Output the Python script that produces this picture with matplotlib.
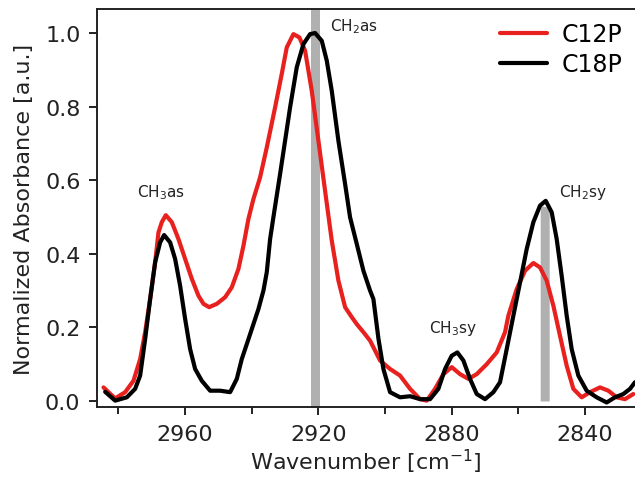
import numpy as np
import matplotlib
matplotlib.use("Agg")
import matplotlib.pyplot as plt
from matplotlib.ticker import MultipleLocator, FormatStrFormatter

# C12P spectrum (wavenumber, normalized absorbance)
wn_c12 = [2984.5, 2981.0, 2978.0, 2975.5, 2973.5, 2972.0, 2970.5, 2969.0, 2968.0, 2967.0,
          2965.8, 2964.0, 2962.0, 2960.0, 2958.0, 2956.0, 2954.5, 2952.8, 2950.5, 2948.0,
          2946.0, 2944.0, 2942.5, 2941.0, 2939.5, 2937.5, 2935.5, 2933.0, 2931.0, 2929.5,
          2927.5, 2925.7, 2924.0, 2922.0, 2920.0, 2918.0, 2916.0, 2914.0, 2912.0, 2910.0,
          2908.5, 2906.5, 2904.5, 2901.5, 2898.5, 2895.5, 2892.5, 2889.5, 2887.5, 2885.0,
          2882.5, 2880.0, 2877.5, 2875.0, 2872.5, 2869.5, 2866.5, 2864.0, 2863.0, 2860.5,
          2858.0, 2855.5, 2853.5, 2851.5, 2849.5, 2847.5, 2845.5, 2843.5, 2841.0, 2838.5,
          2835.5, 2833.0, 2830.5, 2828.0, 2825.5]
abs_c12 = [0.037, 0.007, 0.024, 0.055, 0.114, 0.187, 0.277, 0.377, 0.458, 0.486,
           0.505, 0.486, 0.440, 0.386, 0.332, 0.286, 0.264, 0.255, 0.264, 0.282,
           0.309, 0.359, 0.422, 0.495, 0.549, 0.608, 0.689, 0.798, 0.889, 0.961,
           0.997, 0.988, 0.952, 0.843, 0.707, 0.571, 0.436, 0.327, 0.255, 0.228,
           0.209, 0.187, 0.164, 0.110, 0.087, 0.069, 0.033, 0.005, 0.001, 0.033,
           0.073, 0.092, 0.073, 0.060, 0.073, 0.100, 0.132, 0.187, 0.232, 0.304,
           0.354, 0.375, 0.363, 0.327, 0.259, 0.177, 0.096, 0.033, 0.010, 0.024,
           0.037, 0.028, 0.010, 0.005, 0.019]

# C18P spectrum
wn_c18 = [2984.0, 2981.0, 2977.5, 2975.0, 2973.5, 2972.0, 2970.5, 2969.0, 2967.5, 2966.3,
          2964.5, 2963.0, 2961.5, 2960.0, 2958.5, 2957.0, 2955.0, 2952.5, 2949.5, 2946.5,
          2944.5, 2943.0, 2941.0, 2938.0, 2936.5, 2935.5, 2934.5, 2933.5, 2931.5, 2928.5,
          2926.5, 2924.5, 2922.5, 2921.0, 2919.0, 2917.5, 2916.0, 2914.0, 2912.0, 2910.5,
          2908.5, 2906.5, 2904.5, 2903.5, 2902.0, 2900.5, 2898.5, 2895.5, 2892.5, 2889.5,
          2886.5, 2884.0, 2882.0, 2880.0, 2878.3, 2876.5, 2874.5, 2872.5, 2870.0, 2867.5,
          2865.5, 2863.5, 2861.5, 2859.5, 2857.5, 2855.5, 2853.5, 2851.8, 2850.0, 2848.5,
          2847.0, 2845.5, 2844.0, 2842.0, 2839.5, 2836.5, 2833.5, 2831.0, 2828.5, 2826.5,
          2825.0]
abs_c18 = [0.025, 0.001, 0.010, 0.033, 0.069, 0.168, 0.277, 0.377, 0.431, 0.451,
           0.431, 0.386, 0.313, 0.223, 0.141, 0.087, 0.055, 0.028, 0.028, 0.024,
           0.060, 0.114, 0.168, 0.250, 0.300, 0.350, 0.440, 0.500, 0.617, 0.798,
           0.907, 0.970, 0.997, 1.000, 0.979, 0.925, 0.843, 0.707, 0.590, 0.499,
           0.427, 0.354, 0.300, 0.277, 0.170, 0.087, 0.024, 0.010, 0.013, 0.005,
           0.005, 0.033, 0.087, 0.123, 0.132, 0.110, 0.060, 0.019, 0.005, 0.024,
           0.051, 0.141, 0.232, 0.322, 0.413, 0.486, 0.531, 0.544, 0.513, 0.440,
           0.340, 0.232, 0.141, 0.069, 0.028, 0.010, -0.004, 0.010, 0.019, 0.033,
           0.051]

# band assignments
band_labels = [r"CH$_3$as", r"CH$_2$as", r"CH$_3$sy", r"CH$_2$sy"]
band_x = [2967.2, 2916.5, 2879.6, 2840.6]
band_y = [0.57, 1.02, 0.20, 0.57]
band_ha = ["center", "left", "center", "center"]

# marker positions for the CH2 modes
ch2as_pos = 2920.9
ch2sy_pos = 2852.1
marker_halfwidth = 1.35

fig = plt.figure(figsize=(6.35, 4.81), dpi=100)
ax = fig.add_axes([0.153, 0.152, 0.847, 0.827])

text_col = "#222222"
band_col = "#b0b0b0"

ax.axvspan(ch2as_pos - marker_halfwidth, ch2as_pos + marker_halfwidth,
           color=band_col, lw=0, zorder=1)
sy_x = np.array([ch2sy_pos + marker_halfwidth, ch2sy_pos - marker_halfwidth])
sy_top = np.interp(sy_x, wn_c18[::-1], abs_c18[::-1])
ax.fill_between(sy_x, 0, sy_top, color=band_col, lw=0, zorder=1)

ax.plot(wn_c12, abs_c12, color="#e8201e", lw=3.0, label="C12P", zorder=3,
        solid_joinstyle="round", solid_capstyle="round")
ax.plot(wn_c18, abs_c18, color="black", lw=3.0, label="C18P", zorder=4,
        solid_joinstyle="round", solid_capstyle="round")

for lab, x, y, ha in zip(band_labels, band_x, band_y, band_ha):
    ax.text(x, y, lab, fontsize=11, ha=ha, va="center", color=text_col)

ax.set_xlim(2986.4, 2825.0)
ax.set_ylim(-0.016, 1.065)
ax.xaxis.set_major_locator(MultipleLocator(40))
ax.xaxis.set_minor_locator(MultipleLocator(20))
ax.yaxis.set_major_locator(MultipleLocator(0.2))
ax.yaxis.set_major_formatter(FormatStrFormatter("%.1f"))

ax.spines["right"].set_visible(False)
for side in ["left", "bottom", "top"]:
    ax.spines[side].set_linewidth(1.4)
    ax.spines[side].set_color("#222222")

ax.tick_params(axis="both", which="major", direction="out", length=6, width=1.4,
               labelsize=16, colors="#222222", labelcolor=text_col, pad=6)
ax.tick_params(axis="x", which="minor", direction="out", length=5, width=1.4,
               colors="#222222")

ax.set_xlabel("Wavenumber [cm$^{-1}$]", fontsize=16, color=text_col, labelpad=2)
ax.set_ylabel("Normalized Absorbance [a.u.]", fontsize=16, color=text_col, labelpad=8)

ax.legend(loc="upper right", frameon=False, fontsize=17, handlelength=2.0,
          handletextpad=0.6, borderaxespad=0.15, labelspacing=0.25)

fig.savefig("out.png", dpi=100)
